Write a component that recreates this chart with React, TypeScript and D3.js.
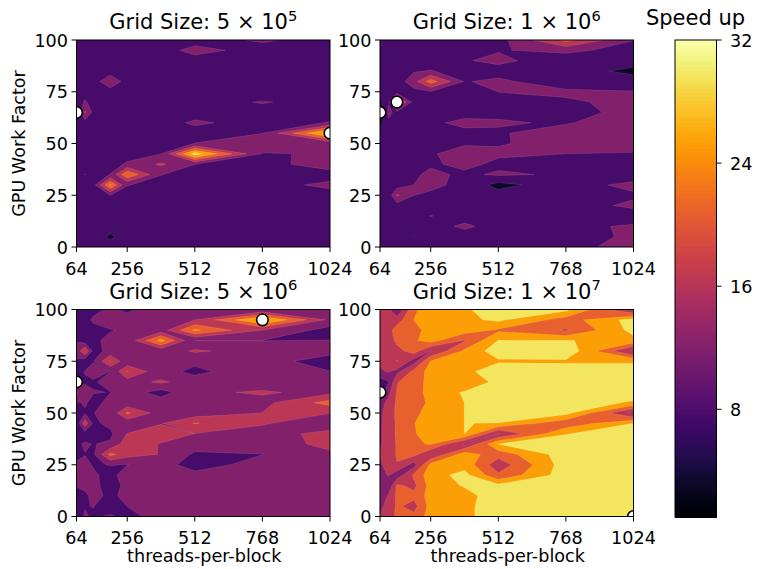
import React from "react";
import * as d3 from "d3";

const threads = [64, 96, 128, 192, 256, 384, 512, 768, 1024];
const workFactors = [100, 95, 90, 85, 80, 75, 70, 65, 60, 55, 50, 45, 40, 35, 30, 25, 20, 15, 10, 5, 0];
const xTicks = [64, 256, 512, 768, 1024];
const yTicks = [0, 25, 50, 75, 100];
const barTicks = [8, 16, 24, 32];
const levels = [1, 5.43, 9.86, 14.29, 18.71, 23.14, 27.57, 32];

const speed5e5 = [
  [8, 8, 8, 8, 8, 8, 8, 10.5, 8],
  [8, 8, 8, 8, 8, 8, 11.4, 8, 8],
  [8, 8, 8, 8, 8, 8, 8, 8, 8],
  [8, 8, 8, 8, 8, 8, 8, 8, 8],
  [8, 8, 8, 13, 8, 8, 8, 8, 8],
  [8, 8, 8, 8, 8, 8, 8, 6.5, 8],
  [7, 10.5, 8, 8, 8, 8, 8, 10.2, 8],
  [3, 15, 8.6, 8, 8, 8, 8, 8, 8],
  [7, 7.8, 8, 8, 8, 8, 10.6, 8, 10.1],
  [8, 8, 8, 8, 8, 8, 8, 9.8, 30],
  [8, 8, 8, 8, 8, 8, 9.95, 12, 10.5],
  [8, 8, 8, 8, 8, 9.8, 30, 9.6, 10.2],
  [8, 8, 8, 8, 10.5, 15, 9.9, 8, 12.4],
  [8, 9.95, 8, 10, 23, 10, 8, 8, 7.8],
  [8, 8, 8, 24, 10.1, 8, 8, 8, 11],
  [8, 8, 8, 9.9, 8, 8, 8, 8, 8],
  [8, 8, 8, 8, 8, 8, 8, 8, 8],
  [8, 8, 8, 8, 8, 8, 8, 8, 8],
  [8, 8, 8, 8, 8, 8, 8, 8, 8],
  [8, 8, 8, 4.5, 8, 8, 8, 8, 8],
  [8, 8, 8, 8, 8, 8, 8, 8, 8],
];

const speed1e6 = [
  [8, 8, 8, 8, 8, 8, 8.2, 20, 10],
  [8, 5, 8, 8, 8, 8, 9.57, 11, 8],
  [8, 8, 8, 8, 8, 9.5, 11, 7, 8],
  [8, 8, 8, 9.5, 10.1, 8, 8, 8, 4],
  [8, 8, 7.4, 12.6, 21, 9.6, 10.8, 7, 8],
  [6.2, 8, 8, 8.5, 9.6, 8, 9.9, 10.8, 10],
  [4.5, 9.5, 22, 8, 8, 8, 9, 9.1, 11.3],
  [1.5, 11, 8.5, 8, 8, 9, 9, 9, 10.6],
  [4.3, 9, 8, 8, 9.4, 10.5, 10.3, 9.4, 13],
  [6.2, 8, 8, 8, 8, 9.2, 9.3, 12.6, 12],
  [8, 8, 8, 8, 8, 9.7, 9.6, 11, 12],
  [8, 8, 8, 8, 9.7, 10.5, 10.5, 9.86, 9.5],
  [8, 8, 8, 8, 9.2, 11, 8.9, 8, 8],
  [8, 8, 8, 9, 11, 9, 10.5, 9.3, 7.4],
  [8, 8, 7.5, 9.9, 11, 8.5, 4, 8, 11],
  [8, 7, 15, 9.9, 9, 8, 7.4, 8, 9.3],
  [8, 8, 8, 8, 8, 8, 8, 8, 10.66],
  [8, 8, 8, 8, 10, 8, 8, 8, 8],
  [8, 8, 8, 8, 8, 10.7, 8, 9, 10.3],
  [8, 8, 8, 5.2, 8, 8, 8, 8, 10.6],
  [8, 8, 8, 8, 8, 8, 8, 8, 12],
];

const speed5e6 = [
  [9, 9, 9, 10.4, 9, 12, 12, 10, 12],
  [9, 9, 10.3, 12, 12, 12, 14.3, 29, 13.2],
  [9, 9, 9, 9.6, 10.5, 12, 24, 14.3, 8],
  [9.7, 7, 9, 11, 11, 25, 9.8, 9.8, 9.97],
  [11, 19, 8.5, 11, 11, 11, 15, 12, 11.6],
  [9.5, 7, 9.7, 19, 11, 12, 10.6, 12, 7.4],
  [9, 10, 11, 9.8, 19, 11, 9.1, 12, 10],
  [8, 9.5, 9.5, 11, 12, 15.2, 11.3, 12, 12],
  [15, 11, 10, 9.8, 12, 8, 13.5, 14.8, 13],
  [9.5, 10.2, 9, 10.7, 11, 12, 12, 13, 20.5],
  [9, 9.5, 9.8, 10.8, 19.5, 12, 11.5, 14.4, 14.4],
  [7, 17, 9, 11, 11, 14, 19, 14.8, 11],
  [8, 8, 8, 9, 14.4, 17, 14.25, 12, 16],
  [9, 10.4, 9.7, 10.5, 17, 14, 12, 12, 15.5],
  [9, 9.7, 9.2, 20, 16, 14.1, 9.1, 9.8, 13.5],
  [10.3, 11, 9.5, 10, 9.75, 12, 7.5, 12, 12],
  [10.5, 11, 10.5, 8.5, 12, 12, 11.4, 12, 12],
  [10.1, 11, 11, 8, 11, 12, 12, 12, 12],
  [8.5, 9, 11, 9, 11, 12, 12, 12, 12],
  [8, 9.7, 9.95, 8, 9.9, 12, 12, 12, 12],
  [8, 10.2, 9.5, 10.3, 9, 11, 12, 12, 12],
];

const speed1e7 = [
  [14, 15, 10, 22.5, 25, 27.2, 29, 29, 13],
  [15, 15, 16.5, 23.2, 25, 26.5, 28.5, 21, 29.4],
  [15, 17, 21, 22, 24.5, 25.5, 22.5, 18.3, 29],
  [15, 16, 20, 22.5, 25, 18.3, 27.8, 27.8, 26],
  [15, 14.9, 17, 21, 14, 24, 30, 31, 13.5],
  [15, 15, 19, 12.5, 23.5, 27, 27, 27, 27],
  [13.8, 14.6, 13, 20, 25, 26, 31, 30, 30],
  [7.5, 9.5, 18.5, 20.5, 25, 24, 29, 30, 30],
  [8, 13, 19, 21, 25, 28, 30, 30, 30],
  [12.5, 15.5, 19.5, 20, 24.5, 27.6, 30, 30, 27],
  [13.8, 15.5, 20, 22, 25, 27.6, 30, 29, 13],
  [13.8, 15.8, 19.5, 23, 25, 27.6, 27.5, 20, 27.6],
  [13.8, 16, 19.5, 22.8, 25, 27.6, 14, 27.4, 30],
  [13.8, 16, 19.2, 22.5, 23.5, 13.5, 27.7, 30, 30],
  [14.4, 15.5, 19.2, 20, 14.5, 25.5, 20.5, 30, 30],
  [14, 15, 18.5, 12.5, 24.5, 26, 16, 30, 30],
  [12, 14.8, 11.5, 19.5, 25.8, 29, 19.5, 30, 30],
  [11, 10.5, 19.5, 17.5, 25, 28, 28.8, 30, 30],
  [9.5, 15, 19.5, 20, 25, 26, 30, 30, 30],
  [13.5, 15.5, 19.5, 17, 25, 26.5, 30, 30, 30],
  [14.5, 15.5, 20, 20, 25, 26.5, 30, 30, 32],
];

const markers5e5 = [[64, 65], [1024, 55]];
const markers1e6 = [[64, 65], [128, 70]];
const markers5e6 = [[64, 65], [768, 95]];
const markers1e7 = [[64, 60], [1024, 0]];

const FONT = "'DejaVu Sans', sans-serif";
const W = 757, H = 569;
const PW = 253.5, PH = 207;
const colorOf = (v: number) => d3.interpolateInferno((v - 1) / 31);

function contourPaths(grid: number[][], sx: (v: number) => number, sy: (v: number) => number) {
  const nx = threads.length, ny = workFactors.length;
  const flat: number[] = [];
  for (let j = -1; j <= ny; j++) {
    const r = grid[Math.max(0, Math.min(ny - 1, j))];
    for (let i = -1; i <= nx; i++) flat.push(r[Math.max(0, Math.min(nx - 1, i))]);
  }
  const colVal = d3.scaleLinear().domain(threads.map((_, i) => i)).range(threads);
  const rowVal = d3.scaleLinear().domain([0, ny - 1]).range([workFactors[0], workFactors[ny - 1]]);
  const gen = d3.contours().size([nx + 2, ny + 2]).thresholds(levels.slice(0, -1));
  return gen(flat).map((mp: any, k: number) => {
    let d = "";
    for (const poly of mp.coordinates) {
      for (const ring of poly) {
        d += "M" + ring.map(([x, y]: number[]) => `${sx(colVal(x - 1.5)).toFixed(2)},${sy(rowVal(y - 1.5)).toFixed(2)}`).join("L") + "Z";
      }
    }
    return { d, fill: colorOf((levels[k] + levels[k + 1]) / 2), k };
  });
}

function Panel({ id, x0, y0, exp, mant, grid, markers, yLabel, xLabel }: any) {
  const sx = d3.scaleLinear().domain([64, 1024]).range([x0, x0 + PW]);
  const sy = d3.scaleLinear().domain([0, 100]).range([y0 + PH, y0]);
  const paths = contourPaths(grid, sx, sy);
  return (
    <g fontFamily={FONT} fill="#000">
      <clipPath id={id}>
        <rect x={x0} y={y0} width={PW} height={PH} />
      </clipPath>
      <g clipPath={`url(#${id})`}>
        {paths.map((p: any) => (
          <path key={p.k} d={p.d} fill={p.fill} fillRule="evenodd"
            stroke={p.k === 0 ? "none" : "#fff"} strokeOpacity={0.2} strokeWidth={0.5} />
        ))}
        {markers.map(([a, b]: number[], i: number) => (
          <circle key={i} cx={sx(a)} cy={sy(b)} r={5.8} fill="#fff" stroke="#000" strokeWidth={1.6} />
        ))}
      </g>
      <rect x={x0} y={y0} width={PW} height={PH} fill="none" stroke="#000" strokeWidth={1} />
      {xTicks.map((t) => (
        <g key={t}>
          <line x1={sx(t)} x2={sx(t)} y1={y0 + PH} y2={y0 + PH + 5} stroke="#000" strokeWidth={1} />
          <text x={sx(t)} y={y0 + PH + 27.5} fontSize={17.6} textAnchor="middle">{t}</text>
        </g>
      ))}
      {yTicks.map((t) => (
        <g key={t}>
          <line x1={x0} x2={x0 - 5} y1={sy(t)} y2={sy(t)} stroke="#000" strokeWidth={1} />
          <text x={x0 - 8.5} y={sy(t) + 6.5} fontSize={17.6} textAnchor="end">{t}</text>
        </g>
      ))}
      <text x={x0 + PW / 2} y={y0 - 11} fontSize={21} textAnchor="middle">
        {`Grid Size: ${mant} × 10`}
        <tspan fontSize={14.7} dy={-8.5}>{exp}</tspan>
      </text>
      {yLabel && (
        <text transform={`translate(${x0 - 51.5},${y0 + PH / 2}) rotate(-90)`} fontSize={17.6} textAnchor="middle">
          GPU Work Factor
        </text>
      )}
      {xLabel && (
        <text x={x0 + PW / 2 + 1} y={y0 + PH + 45} fontSize={17.6} textAnchor="middle">
          threads-per-block
        </text>
      )}
    </g>
  );
}

function ColorBar() {
  const x = 675, w = 41.5, top = 40, bottom = 517;
  const s = d3.scaleLinear().domain([1, 32]).range([bottom, top]);
  const steps = d3.range(0, 128).map((i) => 1 + (31 * i) / 128);
  return (
    <g fontFamily={FONT} fill="#000">
      {steps.map((v) => (
        <rect key={v} x={x} width={w} y={s(v + 31 / 128)} height={s(v) - s(v + 31 / 128) + 1}
          fill={colorOf(v + 31 / 256)} shapeRendering="crispEdges" />
      ))}
      <rect x={x} y={top} width={w} height={bottom - top} fill="none" stroke="#000" strokeWidth={1} />
      {barTicks.map((t) => (
        <g key={t}>
          <line x1={x + w} x2={x + w + 5} y1={s(t)} y2={s(t)} stroke="#000" strokeWidth={1} />
          <text x={x + w + 13.5} y={s(t) + 6.5} fontSize={17.6}>{t}</text>
        </g>
      ))}
      <text x={695.5} y={25} fontSize={21} textAnchor="middle">Speed up</text>
    </g>
  );
}

export default function App() {
  return (
    <svg width={W} height={H} viewBox={`0 0 ${W} ${H}`}
      style={{ position: "absolute", left: 0, top: 0, background: "#fff" }}>
      <Panel id="p1" x0={76.5} y0={40} mant="5" exp="5" grid={speed5e5} markers={markers5e5} yLabel />
      <Panel id="p2" x0={380} y0={40} mant="1" exp="6" grid={speed1e6} markers={markers1e6} />
      <Panel id="p3" x0={76.5} y0={309.5} mant="5" exp="6" grid={speed5e6} markers={markers5e6} yLabel xLabel />
      <Panel id="p4" x0={380} y0={309.5} mant="1" exp="7" grid={speed1e7} markers={markers1e7} xLabel />
      <ColorBar />
    </svg>
  );
}
